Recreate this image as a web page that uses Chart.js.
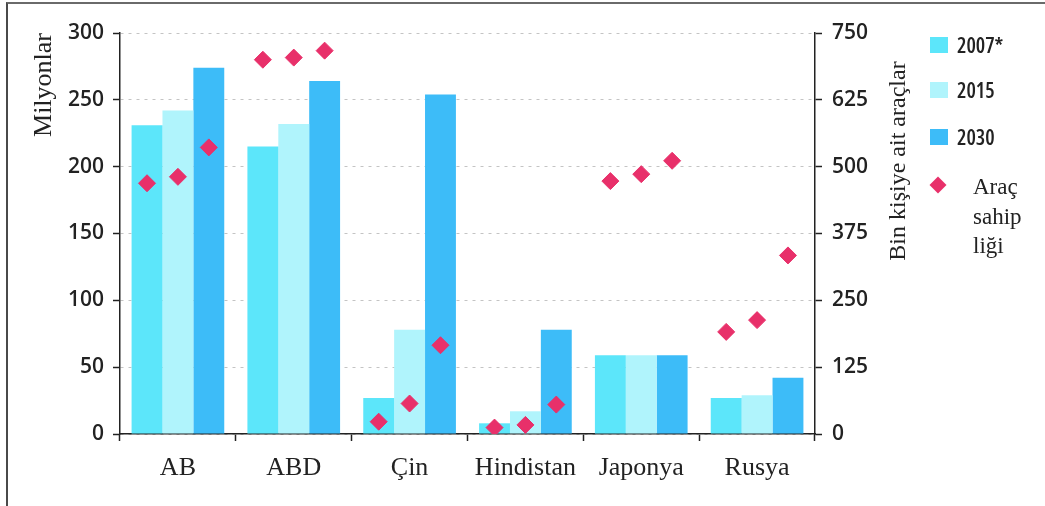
<!DOCTYPE html>
<html>
<head>
<meta charset="utf-8">
<script src="https://cdn.jsdelivr.net/npm/chart.js@4/dist/chart.umd.min.js"></script>
<style>
  html, body { margin: 0; padding: 0; background: #fff; }
  #wrap { position: relative; width: 1045px; height: 506px; overflow: hidden; background: #fff; }
  #c { position: absolute; left: 0; top: 0; }
  #frame { position: absolute; left: 6px; top: 2px; width: 1100px; height: 600px;
           border-left: 2px solid #4a4a4a; border-top: 2px solid #6a6a6a; pointer-events: none; }
  .serif { font-family: "Liberation Serif", "Times New Roman", serif; color: #222; }
  .narrow { font-family: "Open Sans", "Liberation Sans", sans-serif; font-stretch: condensed; font-weight: 600; color: #222; }
  #rtitle { position: absolute; left: 897px; top: 161px; transform: translate(-50%, -50%) rotate(-90deg);
            white-space: nowrap; font-size: 24px; line-height: 1; }
  .lbox { position: absolute; left: 930px; width: 18px; height: 16px; }
  .ltxt { position: absolute; left: 957px; font-size: 21px; line-height: 1; transform: translateY(-50%); white-space: nowrap; }
  .ltxt2 { position: absolute; left: 973px; font-size: 23px; line-height: 1; transform: translateY(-50%); white-space: nowrap; }
  #ldiam { position: absolute; left: 932px; top: 179px; width: 12px; height: 12px; background: #e8306a; transform: rotate(45deg); }
</style>
</head>
<body>
<div id="wrap">
  <canvas id="c" width="1045" height="506"></canvas>
  <div id="frame"></div>
  <div id="rtitle" class="serif">Bin kişiye ait araçlar</div>
  <div id="legend"></div>
</div>
<script>
// ---- data ----
const categories = ['AB', 'ABD', 'Çin', 'Hindistan', 'Japonya', 'Rusya'];
const seriesNames = ['2007*', '2015', '2030'];
const vehicles2007 = [231, 215, 27, 8, 59, 27];      // million
const vehicles2015 = [242, 232, 78, 17, 59, 29];
const vehicles2030 = [274, 264, 254, 78, 59, 42];
const ownership2007 = [469, 700, 23, 12, 473, 191];  // per 1000 people
const ownership2015 = [481, 704, 57, 17, 486, 213];
const ownership2030 = [536, 717, 166, 55, 511, 334];
const leftTicks = [0, 50, 100, 150, 200, 250, 300];
const rightTicks = [0, 125, 250, 375, 500, 625, 750];
const ownershipLabel = ['Araç', 'sahip', 'liği'];
const leftTitle = 'Milyonlar';

// ---- styles ----
const barColors = ['#5ce6fa', '#b0f4fc', '#3dbcf8'];
const diamondColor = '#e8306a';
const tickFont = { family: '"Open Sans", "Liberation Sans", sans-serif', size: 21, style: 'condensed', weight: '600' };
const serifFamily = '"Liberation Serif", "Times New Roman", serif';

// ---- legend (HTML) ----
const legend = document.getElementById('legend');
const boxTops = [37, 82, 129];
seriesNames.forEach((n, i) => {
  const b = document.createElement('div');
  b.className = 'lbox'; b.style.top = boxTops[i] + 'px'; b.style.background = barColors[i];
  legend.appendChild(b);
  const t = document.createElement('div');
  t.className = 'ltxt narrow'; t.style.top = (boxTops[i] + 8) + 'px'; t.textContent = n;
  legend.appendChild(t);
});
const d = document.createElement('div'); d.id = 'ldiam'; legend.appendChild(d);
const lineY = [186, 216, 245];
ownershipLabel.forEach((s, i) => {
  const t = document.createElement('div');
  t.className = 'ltxt2 serif'; t.style.top = lineY[i] + 'px'; t.textContent = s;
  legend.appendChild(t);
});

// ---- align diamonds with their bars ----
const pairs = [[3, 0], [4, 1], [5, 2]];
const alignDiamonds = {
  id: 'alignDiamonds',
  afterDatasetsUpdate(chart) {
    pairs.forEach(([p, b]) => {
      const pm = chart.getDatasetMeta(p), bm = chart.getDatasetMeta(b);
      pm.data.forEach((pt, i) => { if (bm.data[i]) pt.x = bm.data[i].x; });
    });
  }
};

const barData = [vehicles2007, vehicles2015, vehicles2030];
const ownData = [ownership2007, ownership2015, ownership2030];

const datasets = [];
barData.forEach((arr, i) => datasets.push({
  type: 'bar', label: seriesNames[i], data: arr, backgroundColor: barColors[i],
  borderWidth: 0, yAxisID: 'y', order: 2,
  categoryPercentage: 0.8, barPercentage: 1.0
}));
ownData.forEach((arr, i) => datasets.push({
  type: 'line', label: 'Araç sahipliği', data: arr, yAxisID: 'y1', order: 0,
  showLine: false, pointStyle: 'rectRot', pointRadius: 8.5, pointHoverRadius: 8.5,
  pointBackgroundColor: diamondColor, pointBorderColor: diamondColor, pointBorderWidth: 1
}));

new Chart(document.getElementById('c'), {
  data: { labels: categories, datasets },
  plugins: [alignDiamonds],
  options: {
    responsive: false, animation: false, devicePixelRatio: 1,
    layout: { padding: { left: 0, top: 33, right: 0, bottom: 0 } },
    plugins: { legend: { display: false }, tooltip: { enabled: false } },
    scales: {
      x: {
        type: 'category',
        grid: { display: true, offset: true, drawOnChartArea: false, drawTicks: true, tickLength: 7, tickColor: '#222', tickWidth: 1.5 },
        border: { display: true, color: '#222', width: 1.5 },
        ticks: { color: '#222', font: { family: serifFamily, size: 26 }, padding: 12, maxRotation: 0, autoSkip: false },
        afterFit(s) { s.height = 72; }
      },
      y: {
        position: 'left', min: 0, max: 300,
        afterBuildTicks(s) { s.ticks = leftTicks.map(v => ({ value: v })); },
        grid: { color: '#c4c4c4', lineWidth: 1, drawTicks: true, tickLength: 7, tickColor: '#222', tickWidth: 1.5 },
        border: { display: true, color: '#222', width: 1.5, dash: [3, 5] },
        ticks: { color: '#222', font: tickFont, padding: 9 },
        title: { display: true, text: leftTitle, align: 'end', color: '#222', font: { family: serifFamily, size: 26 }, padding: { top: 29, bottom: 0 } },
        afterFit(s) { s.width = 120; }
      },
      y1: {
        position: 'right', min: 0, max: 750,
        afterBuildTicks(s) { s.ticks = rightTicks.map(v => ({ value: v })); },
        grid: { drawOnChartArea: false, drawTicks: true, tickLength: 7, tickColor: '#222', tickWidth: 1.5 },
        border: { display: true, color: '#222', width: 1.5 },
        ticks: { color: '#222', font: tickFont, padding: 10 },
        afterFit(s) { s.width = 230; }
      }
    }
  }
});
</script>
</body>
</html>
